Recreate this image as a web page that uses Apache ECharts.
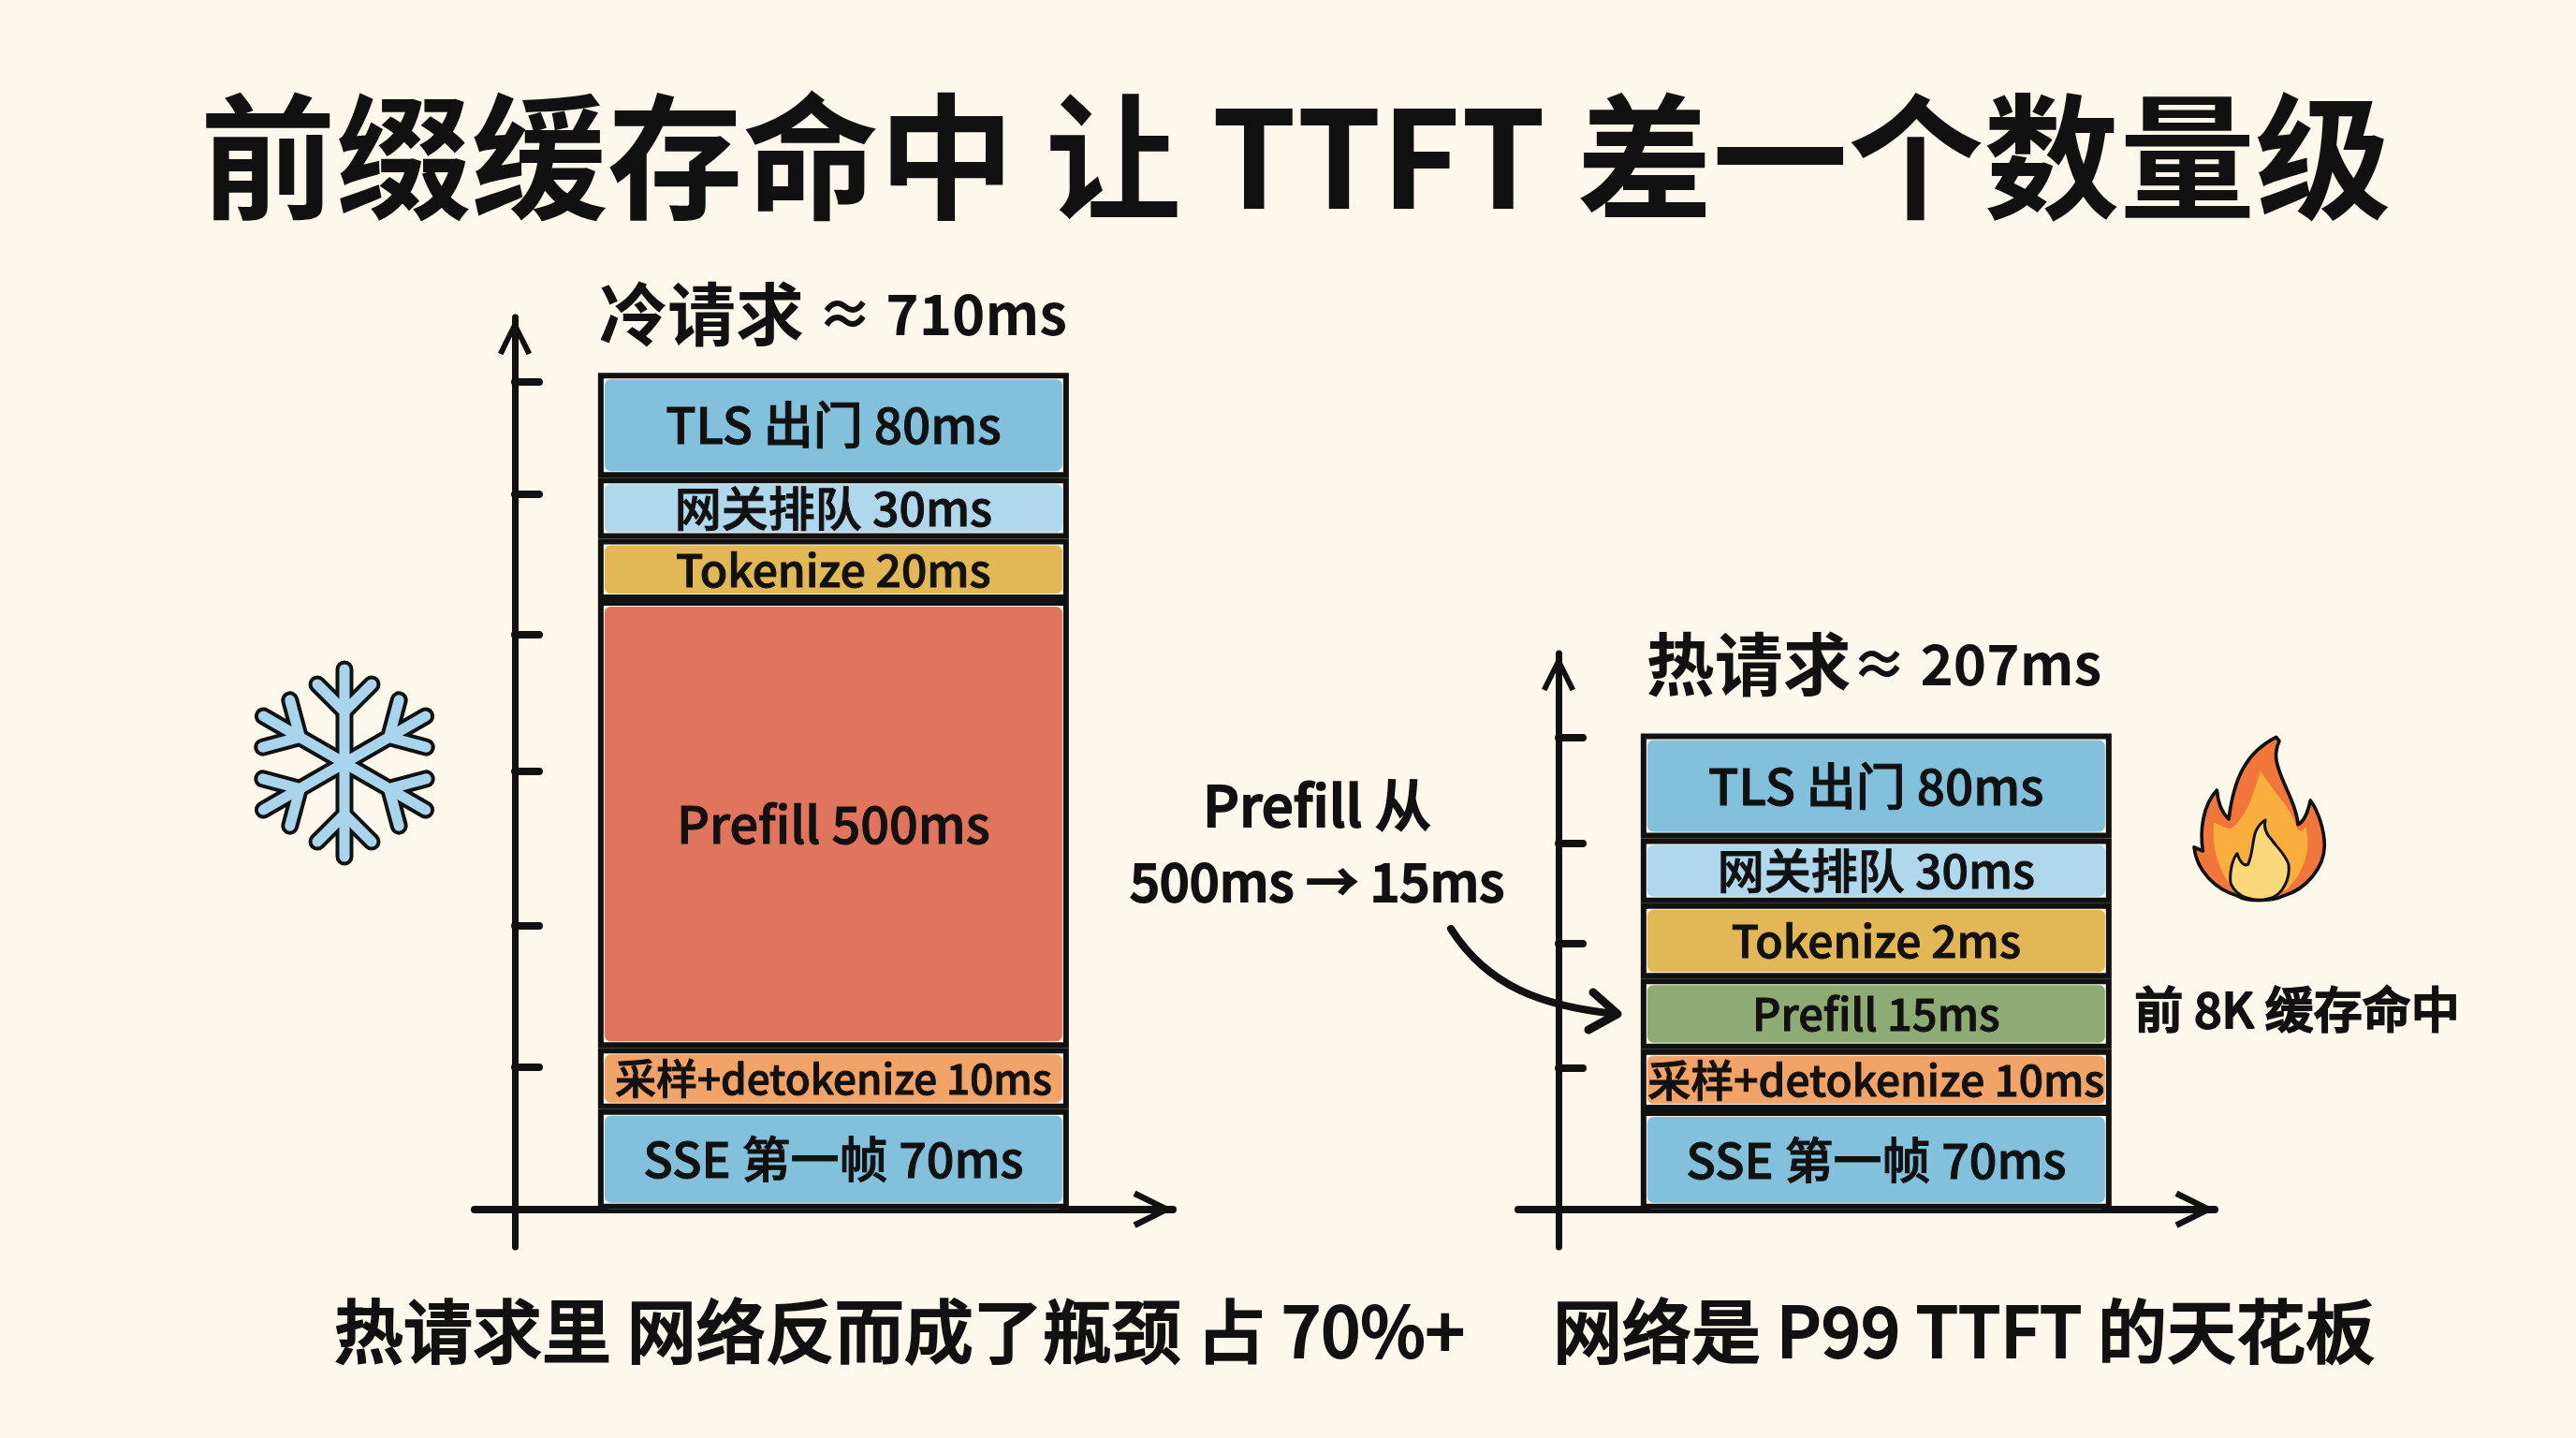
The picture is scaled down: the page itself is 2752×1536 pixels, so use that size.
<!DOCTYPE html>
<html><head><meta charset="utf-8">
<style>html,body{margin:0;padding:0;background:#FDF8EC}#c{width:2752px;height:1536px}</style>
<script src="https://cdn.jsdelivr.net/npm/echarts@6/dist/echarts.min.js"></script>
</head><body><div id="c"></div>
<script>
// ---- data (bottom segment first) ----
const segmentNames = ['SSE 第一帧', '采样+detokenize', 'Prefill', 'Tokenize', '网关排队', 'TLS 出门'];
const coldMs = [70, 10, 500, 20, 30, 80];
const hotMs  = [70, 10, 15, 2, 30, 80];
// The picture is not to scale: apparent heights of each block
const coldDrawn = [85, 52, 380, 52, 52, 89];
const hotDrawn  = [84, 52, 60, 64, 55, 89];
const coldTicks = [121, 241, 372, 488, 607, 702];
const hotTicks  = [120, 226, 311, 401];
const mainTitle = '前缀缓存命中 让 TTFT 差一个数量级';
const coldTitleParts = ['冷请求', ' ≈ 710ms'];
const hotTitleParts  = ['热请求', '≈ 207ms'];
const noteLines = ['Prefill 从', '500ms → 15ms'];
const hitNote = '前 8K 缓存命中';
const footLeft = '热请求里 网络反而成了瓶颈 占 70%+';
const footRight = '网络是 P99 TTFT 的天花板';

// ---- style ----
const INK = '#111111', BG = '#FDF8EC';
const FONT = '"Noto Sans CJK SC","Noto Sans",sans-serif';
const coldColors = ['#82C0DB', '#F2A468', '#E0745C', '#E1B855', '#B0D8EC', '#82C0DB'];
const hotColors  = ['#82C0DB', '#F2A468', '#8FAB74', '#E1B855', '#B0D8EC', '#82C0DB'];
const coldFont = [52, 44, 54, 48, 50, 53];
const hotFont  = [52, 46, 47, 48, 50, 53];
const CHEVRON = 'path://M20 0L40 40L34 43L20 14L6 43L0 40Z';
// blank category slots only place the single bar off-centre on its x axis, as in the picture
const SLOT_COUNT = 36, BAR_SLOT = 18;
const slotNames = Array.from({length:SLOT_COUNT}, () => '');

function xAxis(gridIndex) {
  return { gridIndex, type:'category', data:slotNames, splitLine:{show:false}, axisTick:{show:false}, axisLabel:{show:false},
      axisLine:{ show:true, onZero:true, symbol:['none',CHEVRON], symbolSize:[40,43], symbolOffset:[0,-21], lineStyle:{color:INK,width:8,cap:'round'} } };
}
function yAxis(gridIndex, max, ticks) {
  return { gridIndex, type:'value', position:'left', offset:-43, min:-32, max, splitLine:{show:false}, axisLabel:{show:false},
    axisLine:{ show:true, onZero:false, symbol:['none',CHEVRON], symbolSize:[36,43], symbolOffset:[0,-21], lineStyle:{color:INK,width:7,cap:'round'} },
    axisTick:{ show:true, inside:true, length:26, customValues:ticks, lineStyle:{color:INK,width:8,cap:'round'} } };
}
function inSlot(v) { return slotNames.map((_, i) => i === BAR_SLOT ? v : null); }
function stackSeries(tag, idx, drawn, ms, colors, fonts) {
  const out = [];
  drawn.forEach((h, i) => out.push({
    type:'bar', name:segmentNames[i], stack:tag+'Fill', xAxisIndex:idx, yAxisIndex:idx, barWidth:503, barGap:'-100%', z:2,
    data:inSlot(h),
    itemStyle:{ color:colors[i], borderColor:BG, borderWidth:7, borderRadius:10 },
    label:{ show:true, position:'inside', color:INK, fontFamily:FONT, fontWeight:500, fontSize:fonts[i], textBorderColor:INK, textBorderWidth:1, formatter:segmentNames[i]+' '+ms[i]+'ms' }
  }));
  drawn.forEach((h, i) => out.push({
    type:'bar', name:segmentNames[i], stack:tag+'Frame', xAxisIndex:idx, yAxisIndex:idx, barWidth:503, barGap:'-100%', z:3, silent:true,
    data:inSlot(h), itemStyle:{ color:'rgba(0,0,0,0)', borderColor:INK, borderWidth:6 }
  }));
  return out;
}
function text(t, x, y, size, weight) {
  return { type:'text', x, y, z:20, style:{ text:t, fill:INK, stroke:INK, lineWidth:2, font:(weight||500)+' '+size+'px '+FONT, textAlign:'center', textVerticalAlign:'middle' } };
}
function head(t, x, top, size) {
  return { text:t, left:x, top, padding:0, textAlign:'center', textStyle:{ color:INK, fontFamily:FONT, fontWeight:'bold', fontSize:size } };
}
function subHead(parts, x, top) {
  return { text:'{c|'+parts[0]+'}{l|'+parts[1]+'}', left:x, top, padding:0, textAlign:'center',
    textStyle:{ rich:{ c:{ color:INK, fontFamily:FONT, fontWeight:'bold', fontSize:73 }, l:{ color:INK, fontFamily:FONT, fontWeight:'bold', fontSize:60 } } } };
}

// decorative icons, drawn by one custom series
const ARM = 'M0 0L0 -100M0 -55L-29 -84M0 -55L29 -84';
function flake(stroke, width) {
  return [0,60,120,180,240,300].map(a => ({ type:'path', x:368, y:815, rotation:a*Math.PI/180,
    shape:{ pathData:ARM, layout:'none' }, style:{ fill:null, stroke, lineWidth:width, lineCap:'round', lineJoin:'round' } }));
}
const FLAME_OUT = 'M395 82C300 130 260 210 243 345C222 325 208 290 205 252C160 300 150 380 160 447L132 435C140 510 200 570 270 590C300 610 380 610 420 590C490 570 550 500 550 430C550 380 530 320 505 285C495 330 480 355 465 362C460 290 400 210 395 150C393 130 398 110 405 95Z';
const FLAME_MID = 'M345 190C320 270 300 340 250 375C225 372 205 360 195 355C190 420 200 500 260 570C300 600 380 600 430 570C480 520 510 450 490 370C480 380 470 390 462 375C440 300 385 260 345 190Z';
const FLAME_IN  = 'M360 348C310 380 330 430 305 490C290 497 278 480 270 455C250 480 245 530 250 552C270 600 330 610 370 600C420 590 440 530 435 490C420 450 400 440 380 410C360 390 355 370 360 348Z';
function flame(d, fill, stroke, lw) {
  return { type:'path', x:2300, y:760, scaleX:1/3, scaleY:1/3, shape:{ pathData:d, layout:'none' }, style:{ fill, stroke, lineWidth:lw, lineJoin:'round' } };
}
const decoration = {
  type:'custom', coordinateSystem:'none', silent:true, z:10, data:[[0]],
  renderItem: () => ({ type:'group', children:[
    ...flake(INK, 19),
    ...flake('#A9D5EC', 11),
    flame(FLAME_OUT, '#F0763C', INK, 11),
    flame(FLAME_MID, '#F9AE3E', null, 0),
    flame(FLAME_IN, '#FBD97A', INK, 9),
    { type:'path', shape:{ pathData:'M1550 992C1590 1055 1650 1075 1726 1083', layout:'none' }, style:{ fill:null, stroke:INK, lineWidth:8, lineCap:'round' } },
    { type:'path', shape:{ pathData:'M1702 1060L1728 1083L1697 1100', layout:'none' }, style:{ fill:null, stroke:INK, lineWidth:9, lineCap:'round', lineJoin:'round' } },
  ]})
};

const option = {
  backgroundColor: BG,
  animation: false,
  title: [
    head(mainTitle, 1384, 95, 145),
    subHead(coldTitleParts, 890, 299),
    subHead(hotTitleParts, 2002, 673),
  ],
  grid: [
    { left:507, width:746, top:339, height:993 },
    { left:1622, width:744, top:698, height:634 },
  ],
  xAxis: [ xAxis(0), xAxis(1) ],
  yAxis: [ yAxis(0, 757, coldTicks), yAxis(1, 472, hotTicks) ],
  series: [
    ...stackSeries('cold', 0, coldDrawn, coldMs, coldColors, coldFont),
    ...stackSeries('hot', 1, hotDrawn, hotMs, hotColors, hotFont),
    decoration,
  ],
  graphic: [
    text(noteLines[0], 1407, 860, 60),
    text(noteLines[1], 1407, 942, 56),
    text(hitNote, 2454, 1078, 52),
    text(footLeft, 961, 1422, 74),
    text(footRight, 2098, 1422, 74),
  ]
};
echarts.init(document.getElementById('c'), null, { renderer:'canvas', width:2752, height:1536 }).setOption(option);
</script></body></html>
